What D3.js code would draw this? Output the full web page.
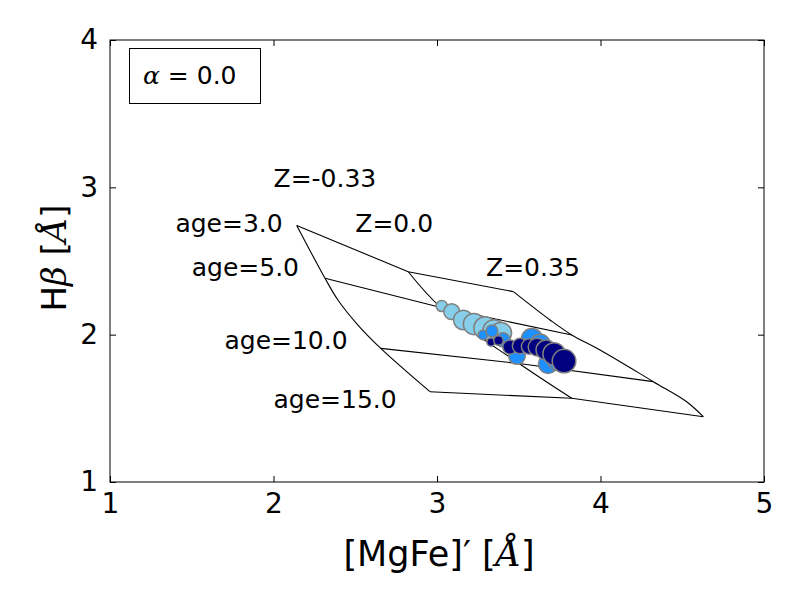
<!DOCTYPE html>
<html>
<head>
<meta charset="utf-8">
<script src="https://cdn.jsdelivr.net/npm/d3@7"></script>
<style>
  html, body { margin: 0; padding: 0; background: #fff; }
  svg { display: block; }
  text { font-family: "DejaVu Sans", sans-serif; fill: #000; }
  .math { font-family: "DejaVu Serif", serif; font-style: italic; }
</style>
</head>
<body>
<svg id="chart" width="800" height="600"></svg>
<script>
// ---------------- data ----------------
const xTicks = [1, 2, 3, 4, 5];
const yTicks = [1, 2, 3, 4];

// model grid: tracks of constant metallicity, sampled at several ages
const metallicities = [-0.33, 0.0, 0.35];
const trackAge = [
  [3, 5, 6.5, 8, 10, 15],
  [3, 5, 10, 15],
  [3, 4, 5, 7, 10, 12.5, 15]
];
const trackMgFe = [
  [2.142, 2.315, 2.394, 2.511, 2.656, 2.957],
  [2.824, 3.024, 3.502, 3.824],
  [3.467, 3.691, 3.824, 3.997, 4.323, 4.527, 4.629]
];
const trackHb = [
  [2.741, 2.383, 2.235, 2.072, 1.907, 1.613],
  [2.427, 2.184, 1.804, 1.568],
  [2.292, 2.100, 1.998, 1.896, 1.681, 1.545, 1.443]
];
const gridAges = [3, 5, 10, 15];

// grid annotations (data coordinates of text anchor)
const annText = ["Z=-0.33", "age=3.0", "Z=0.0", "age=5.0", "Z=0.35", "age=10.0", "age=15.0"];
const annX = [2.0, 1.4, 2.5, 1.5, 3.3, 1.7, 2.0];
const annY = [3.0, 2.7, 2.7, 2.4, 2.4, 1.9, 1.5];

// observed points: three groups, marker area s (pt^2)
const groups = ["g1", "g2", "g3"];
const g1MgFe = [3.029, 3.090, 3.161, 3.226, 3.294, 3.349, 3.391];
const g1Hb   = [2.195, 2.156, 2.100, 2.072, 2.045, 2.025, 2.011];
const g1S    = [46, 93, 143, 168, 187, 187, 168];
const g2MgFe = [3.281, 3.336, 3.404, 3.489, 3.581, 3.630, 3.679, 3.740];
const g2Hb   = [1.998, 2.025, 1.964, 1.855, 1.970, 1.930, 1.801, 1.828];
const g2S    = [33, 52, 75, 102, 168, 168, 133, 168];
const g3MgFe = [3.330, 3.376, 3.446, 3.508, 3.563, 3.612, 3.667, 3.716, 3.777];
const g3Hb   = [1.950, 1.960, 1.916, 1.923, 1.920, 1.916, 1.896, 1.869, 1.821];
const g3S    = [25, 33, 75, 88, 88, 117, 150, 187, 207];

const alphaValue = "0.0";

// ---------------- drawing ----------------
const svg = d3.select("#chart");
const L = 110, R = 764, T = 40, B = 482;
const x = d3.scaleLinear().domain([1, 5]).range([L, R]);
const y = d3.scaleLinear().domain([1, 4]).range([B, T]);
const groupColor = d3.scaleOrdinal().domain(groups).range(["#87ceeb", "#1e90ff", "#000080"]);
// marker area (pt^2) -> radius in px
const rad = s => Math.sqrt(s) / 2 * (100 / 72) * 1.18;

const tracks = metallicities.map((z, i) => trackAge[i].map((a, j) => ({age: a, mgfe: trackMgFe[i][j], hb: trackHb[i][j]})));
const isoAge = gridAges.map(a => tracks.map(t => t.find(p => p.age === a)));

const trackLine = d3.line().x(d => x(d.mgfe)).y(d => y(d.hb)).curve(d3.curveCatmullRom.alpha(0.5));
const isoLine = d3.line().x(d => x(d.mgfe)).y(d => y(d.hb));
const plot = svg.append("g");

plot.selectAll("path.track").data(tracks).join("path")
  .attr("class", "track").attr("d", trackLine)
  .attr("fill", "none").attr("stroke", "#000").attr("stroke-width", 1.1);
plot.selectAll("path.iso").data(isoAge).join("path")
  .attr("class", "iso").attr("d", isoLine)
  .attr("fill", "none").attr("stroke", "#000").attr("stroke-width", 1.1);

// points
const obs = [
  {g: "g1", mx: g1MgFe, hb: g1Hb, s: g1S},
  {g: "g2", mx: g2MgFe, hb: g2Hb, s: g2S},
  {g: "g3", mx: g3MgFe, hb: g3Hb, s: g3S}
].flatMap(o => o.mx.map((v, i) => ({g: o.g, mgfe: v, hb: o.hb[i], s: o.s[i]})));

plot.selectAll("circle.obs").data(obs).join("circle")
  .attr("class", "obs")
  .attr("cx", d => x(d.mgfe)).attr("cy", d => y(d.hb))
  .attr("r", d => rad(d.s))
  .attr("fill", d => groupColor(d.g))
  .attr("stroke", "#808080").attr("stroke-width", 1.5);

// annotations
plot.selectAll("text.ann").data(annText).join("text")
  .attr("class", "ann")
  .attr("x", (d, i) => x(annX[i])).attr("y", (d, i) => y(annY[i]))
  .attr("font-size", 25)
  .text(d => d);

// axes
const fs = 28;
const ax = svg.append("g").attr("transform", `translate(0,${B})`)
  .call(d3.axisBottom(x).tickValues(xTicks).tickFormat(d3.format("d")).tickSizeInner(-6).tickSizeOuter(0).tickPadding(11));
const axTop = svg.append("g").attr("transform", `translate(0,${T})`)
  .call(d3.axisTop(x).tickValues(xTicks).tickFormat("").tickSizeInner(-6).tickSizeOuter(0));
const ay = svg.append("g").attr("transform", `translate(${L},0)`)
  .call(d3.axisLeft(y).tickValues(yTicks).tickFormat(d3.format("d")).tickSizeInner(-6).tickSizeOuter(0).tickPadding(12));
const ayR = svg.append("g").attr("transform", `translate(${R},0)`)
  .call(d3.axisRight(y).tickValues(yTicks).tickFormat("").tickSizeInner(-6).tickSizeOuter(0));
[ax, axTop, ay, ayR].forEach(g => {
  g.select(".domain").remove();
  g.selectAll(".tick line").attr("stroke", "#000").attr("stroke-width", 1);
  g.selectAll(".tick text").attr("font-size", fs).attr("font-family", "DejaVu Sans").attr("fill", "#000");
});

// frame
svg.append("rect").attr("x", L).attr("y", T).attr("width", R - L).attr("height", B - T)
  .attr("fill", "none").attr("stroke", "#000").attr("stroke-width", 1);

// legend box
const lg = svg.append("g");
lg.append("rect").attr("x", 129.5).attr("y", 48.5).attr("width", 131).attr("height", 55)
  .attr("fill", "#fff").attr("stroke", "#000").attr("stroke-width", 1);
const lt = lg.append("text").attr("x", 143).attr("y", 83.5).attr("font-size", 25);
lt.append("tspan").attr("class", "math").text("α");
lt.append("tspan").text(" = " + alphaValue);

// axis labels
const xl = svg.append("text").attr("x", (L + R) / 2 + 2).attr("y", 566)
  .attr("text-anchor", "middle").attr("font-size", 35);
xl.append("tspan").text("[MgFe]");
xl.append("tspan").text("′");
xl.append("tspan").text(" [");
xl.append("tspan").attr("class", "math").text("Å");
xl.append("tspan").text("]");

const yl = svg.append("text").attr("transform", `translate(66,${(T + B) / 2 - 3}) rotate(-90)`)
  .attr("text-anchor", "middle").attr("font-size", 34);
yl.append("tspan").text("H");
yl.append("tspan").attr("class", "math").text("β");
yl.append("tspan").text(" [");
yl.append("tspan").attr("class", "math").text("Å");
yl.append("tspan").text("]");
</script>
</body>
</html>
